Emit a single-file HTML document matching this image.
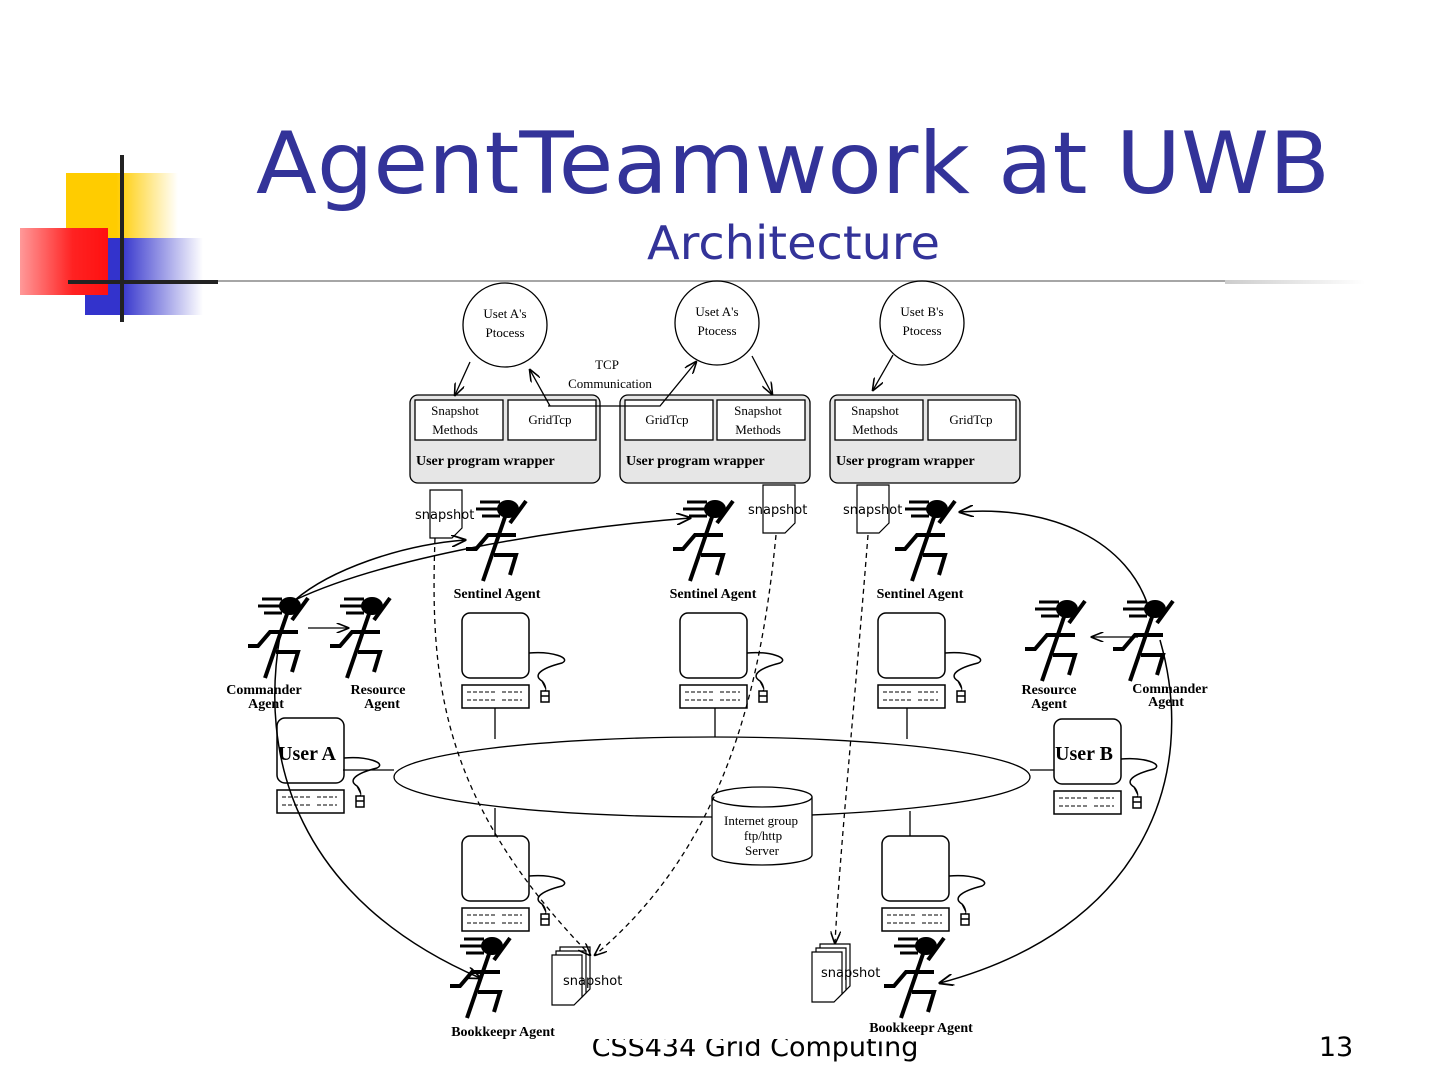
<!DOCTYPE html>
<html><head><meta charset="utf-8"><style>
html,body{margin:0;padding:0;background:#fff;}
body{width:1440px;height:1080px;position:relative;overflow:hidden;font-family:"DejaVu Sans","Liberation Sans",sans-serif;}
</style></head><body>
<svg width="1440" height="1080" viewBox="0 0 1440 1080" xmlns="http://www.w3.org/2000/svg" style="position:absolute;left:0;top:0">
<defs>
<linearGradient id="gy" x1="0" x2="1"><stop offset="0.45" stop-color="#ffcc00"/><stop offset="1" stop-color="#fff"/></linearGradient>
<linearGradient id="gr" x1="0" x2="1"><stop offset="0" stop-color="#ff9999"/><stop offset="0.6" stop-color="#ff2222"/><stop offset="1" stop-color="#ff1010"/></linearGradient>
<linearGradient id="gb" x1="0" x2="1"><stop offset="0.3" stop-color="#3333cc"/><stop offset="1" stop-color="#fff"/></linearGradient>
<linearGradient id="gl" x1="0" x2="1"><stop offset="0" stop-color="#ccc"/><stop offset="1" stop-color="#fff"/></linearGradient>
<g id="comp" fill="none" stroke="#000" stroke-width="1.5">
<rect x="0" y="0" width="67" height="65" rx="8" fill="#fff"/>
<rect x="0" y="72" width="67" height="23" fill="#fff"/>
<path d="M5 79h30M40 79h20M5 87h30M40 87h20" stroke-dasharray="4 2" stroke-width="1"/>
<path d="M67 40 C90 38,110 45,100 50 C80 55,70 62,80 68 C84 72,84 78,83 77"/>
<rect x="79" y="78" width="8" height="11"/><line x1="79" y1="83" x2="87" y2="83"/>
</g>
<g id="agent" stroke="#000" stroke-width="4" fill="none" stroke-linecap="butt">
<ellipse cx="0" cy="0" rx="11" ry="9" fill="#000" stroke="none"/>
<path d="M-28 -7h20M-32 0h24M-26 7h18" stroke-width="3"/>
<path d="M-3 8 L-25 72"/>
<path d="M-42 40 L-32 40 L-20 26 L8 26"/>
<path d="M2 14 L18 -8"/>
<path d="M-14 46 L8 46 L2 66"/>
</g>
<marker id="ar" markerWidth="10" markerHeight="8" refX="9" refY="4" orient="auto"><path d="M0 0 L10 4 L0 8" fill="none" stroke="#000" stroke-width="1.2"/></marker>
</defs>

<text x="755" y="1056" text-anchor="middle" font-size="27" fill="#000">CSS434 Grid Computing</text>
<rect x="400" y="990" width="620" height="49" fill="#fff"/>

<!-- logo -->
<rect x="66" y="173" width="112" height="67" fill="url(#gy)"/>
<rect x="85" y="238" width="118" height="77" fill="url(#gb)"/>
<rect x="20" y="228" width="88" height="67" fill="url(#gr)"/>
<line x1="122" y1="155" x2="122" y2="322" stroke="#222" stroke-width="4"/>
<line x1="68" y1="282" x2="218" y2="282" stroke="#222" stroke-width="4"/>
<line x1="218" y1="281" x2="1225" y2="281" stroke="#888" stroke-width="1.5"/>
<rect x="1225" y="280" width="140" height="4" fill="url(#gl)"/>

<text x="256" y="193" textLength="1074" lengthAdjust="spacingAndGlyphs" font-size="86" fill="#333399">AgentTeamwork at UWB</text>
<text x="647" y="259" textLength="293" lengthAdjust="spacingAndGlyphs" font-size="46" fill="#333399">Architecture</text>
<text x="1336" y="1056" text-anchor="middle" font-size="27" fill="#000">13</text>

<g font-family="Liberation Serif,serif" fill="#000">
<g fill="none" stroke="#000" stroke-width="1.3">
<circle cx="505" cy="325" r="42"/><circle cx="717" cy="323" r="42"/><circle cx="922" cy="323" r="42"/>
<rect x="410" y="395" width="190" height="88" rx="8" fill="#e6e6e6"/>
<rect x="620" y="395" width="190" height="88" rx="8" fill="#e6e6e6"/>
<rect x="830" y="395" width="190" height="88" rx="8" fill="#e6e6e6"/>
<rect x="415" y="400" width="88" height="40" fill="#fff"/><rect x="508" y="400" width="88" height="40" fill="#fff"/>
<rect x="625" y="400" width="88" height="40" fill="#fff"/><rect x="717" y="400" width="88" height="40" fill="#fff"/>
<rect x="835" y="400" width="88" height="40" fill="#fff"/><rect x="928" y="400" width="88" height="40" fill="#fff"/>
<path d="M470 362 L455 395" marker-end="url(#ar)"/>
<path d="M550 406 L530 370" marker-end="url(#ar)"/>
<path d="M548 406 L660 406 L696 362" marker-end="url(#ar)"/>
<path d="M752 356 L772 394" marker-end="url(#ar)"/>
<path d="M893 355 L873 390" marker-end="url(#ar)"/>
</g>
<g font-size="13" text-anchor="middle">
<text x="505" y="318">Uset A's</text><text x="505" y="337">Ptocess</text>
<text x="717" y="316">Uset A's</text><text x="717" y="335">Ptocess</text>
<text x="922" y="316">Uset B's</text><text x="922" y="335">Ptocess</text>
<text x="607" y="369">TCP</text><text x="610" y="388">Communication</text>
<text x="455" y="415">Snapshot</text><text x="455" y="434">Methods</text>
<text x="550" y="424">GridTcp</text>
<text x="667" y="424">GridTcp</text>
<text x="758" y="415">Snapshot</text><text x="758" y="434">Methods</text>
<text x="875" y="415">Snapshot</text><text x="875" y="434">Methods</text>
<text x="971" y="424">GridTcp</text>
</g>
<g font-size="14" font-weight="bold">
<text x="416" y="465">User program wrapper</text>
<text x="626" y="465">User program wrapper</text>
<text x="836" y="465">User program wrapper</text>
</g>

<g fill="#fff" stroke="#000" stroke-width="1.2">
<path d="M430 490h32v38l-10 10h-22z"/>
<path d="M763 485h32v38l-10 10h-22z"/>
<path d="M857 485h32v38l-10 10h-22z"/>
<path d="M560 947h30v42l-8 8h-22z"/><path d="M556 951h30v42l-8 8h-22z"/><path d="M552 955h30v42l-8 8h-22z"/>
<path d="M820 944h30v42l-8 8h-22z"/><path d="M816 948h30v42l-8 8h-22z"/><path d="M812 952h30v42l-8 8h-22z"/>
</g>
<g font-size="13" font-family="DejaVu Sans,sans-serif">
<text x="415" y="519">snapshot</text><text x="748" y="514">snapshot</text><text x="843" y="514">snapshot</text>
<text x="563" y="985">snapshot</text><text x="821" y="977">snapshot</text>
</g>

<use href="#agent" x="508" y="509"/>
<use href="#agent" x="715" y="509"/>
<use href="#agent" x="937" y="509"/>
<use href="#agent" x="290" y="606"/>
<use href="#agent" x="372" y="606"/>
<use href="#agent" x="1067" y="609"/>
<use href="#agent" x="1155" y="609"/>
<use href="#agent" x="492" y="946"/>
<use href="#agent" x="926" y="946"/>
<g font-size="14" font-weight="bold" text-anchor="middle">
<text x="497" y="598">Sentinel Agent</text>
<text x="713" y="598">Sentinel Agent</text>
<text x="920" y="598">Sentinel Agent</text>
<text x="264" y="694">Commander</text><text x="266" y="708">Agent</text>
<text x="378" y="694">Resource</text><text x="382" y="708">Agent</text>
<text x="1049" y="694">Resource</text><text x="1049" y="708">Agent</text>
<text x="1170" y="693">Commander</text><text x="1166" y="706">Agent</text>
<text x="503" y="1036">Bookkeepr Agent</text>
<text x="921" y="1032">Bookkeepr Agent</text>
</g>

<use href="#comp" x="462" y="613"/>
<use href="#comp" x="680" y="613"/>
<use href="#comp" x="878" y="613"/>
<use href="#comp" x="277" y="718"/>
<use href="#comp" x="1054" y="719"/>
<use href="#comp" x="462" y="836"/>
<use href="#comp" x="882" y="836"/>
<g font-size="20" font-weight="bold"><text x="278" y="760">User A</text><text x="1055" y="760">User B</text></g>

<g fill="none" stroke="#000" stroke-width="1.3">
<ellipse cx="712" cy="777" rx="318" ry="40"/>
<line x1="495" y1="708" x2="495" y2="739"/><line x1="715" y1="708" x2="715" y2="737"/><line x1="907" y1="708" x2="907" y2="739"/>
<line x1="495" y1="808" x2="495" y2="836"/><line x1="910" y1="811" x2="910" y2="836"/>
<line x1="343" y1="770" x2="394" y2="770"/><line x1="1030" y1="770" x2="1054" y2="770"/>
<path d="M712 797 v58 a50 10 0 0 0 100 0 v-58" fill="#fff"/>
<ellipse cx="762" cy="797" rx="50" ry="10" fill="#fff"/>
<path d="M308 628 L348 628" marker-end="url(#ar)"/>
<path d="M1138 637 L1092 637" marker-end="url(#ar)"/>
<path d="M295 600 C330 570,400 545,465 540" stroke-width="1.5" marker-end="url(#ar)"/>
<path d="M295 600 C380 560,540 530,690 518" stroke-width="1.5" marker-end="url(#ar)"/>
<path d="M1150 612 C1130 540,1050 505,960 512" stroke-width="1.5" marker-end="url(#ar)"/>
<path d="M282 625 C255 760,300 900,480 978" stroke-width="1.5" marker-end="url(#ar)"/>
<path d="M1160 640 C1200 780,1140 930,940 983" stroke-width="1.5" marker-end="url(#ar)"/>
<path d="M435 538 C430 680,440 800,590 955" stroke-dasharray="5 4" marker-end="url(#ar)"/>
<path d="M776 535 C760 700,720 850,595 955" stroke-dasharray="5 4" marker-end="url(#ar)"/>
<path d="M868 535 C855 700,840 850,835 943" stroke-dasharray="5 4" marker-end="url(#ar)"/>
</g>
<g font-size="13" text-anchor="middle"><text x="761" y="825">Internet group</text><text x="763" y="840">ftp/http</text><text x="762" y="855">Server</text></g>
</g>
</svg>
</body></html>
